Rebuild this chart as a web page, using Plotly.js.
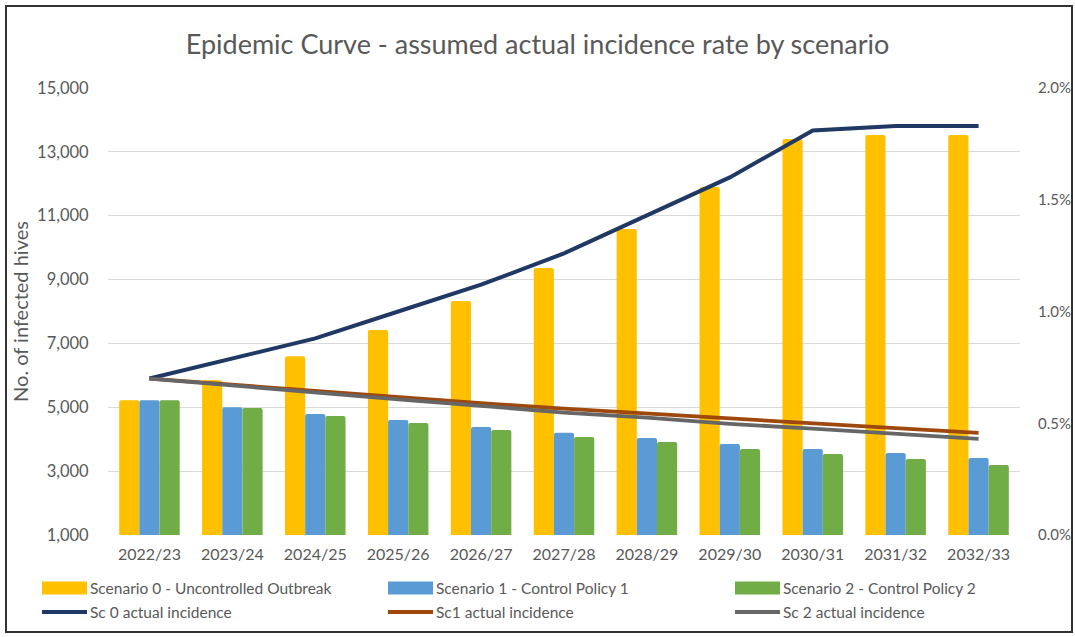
<!DOCTYPE html>
<html>
<head>
<meta charset="utf-8">
<script src="https://cdn.plot.ly/plotly-3.0.1.min.js"></script>
<style>
  html, body { margin: 0; padding: 0; background: #fff; }
  #chart { width: 1075px; height: 637px; }
</style>
</head>
<body>
<div id="chart"></div>
<script>
// ---- data ----
const years = ["2022/23","2023/24","2024/25","2025/26","2026/27","2027/28","2028/29","2029/30","2030/31","2031/32","2032/33"];
const sc0Hives = [5220, 5850, 6600, 7420, 8330, 9360, 10580, 11900, 13400, 13530, 13530];
const sc1Hives = [5220, 5000, 4790, 4600, 4380, 4200, 4040, 3850, 3690, 3570, 3410];
const sc2Hives = [5220, 4980, 4730, 4510, 4290, 4070, 3910, 3690, 3540, 3380, 3190];
const sc0Pct = [0.70, 0.79, 0.88, 1.00, 1.12, 1.26, 1.43, 1.60, 1.81, 1.83, 1.83];
const sc1Pct = [0.70, 0.672, 0.645, 0.618, 0.590, 0.565, 0.543, 0.518, 0.497, 0.478, 0.457];
const sc2Pct = [0.70, 0.668, 0.637, 0.607, 0.578, 0.548, 0.525, 0.497, 0.476, 0.455, 0.430];
const barNames = ["Scenario 0 - Uncontrolled Outbreak", "Scenario 1 - Control Policy 1", "Scenario 2 - Control Policy 2"];
const lineNames = ["Sc 0 actual incidence", "Sc1 actual incidence", "Sc 2 actual incidence"];
const leftTicks = [1000, 3000, 5000, 7000, 9000, 11000, 13000, 15000];
const leftTickText = ["1,000", "3,000", "5,000", "7,000", "9,000", "11,000", "13,000", "15,000"];
const rightTicks = [0, 0.5, 1.0, 1.5, 2.0];
const rightTickText = ["0.0%", "0.5%", "1.0%", "1.5%", "2.0%"];

// ---- styles ----
const barColors = ["#FFC000", "#5B9BD5", "#70AD47"];
const lineColors = ["#203864", "#9E480E", "#666666"];
const FONT = "Lato, 'Open Sans', sans-serif";
const TXT = "#595959";

const barData = [sc0Hives, sc1Hives, sc2Hives];
const lineData = [sc0Pct, sc1Pct, sc2Pct];

const traces = [];
barData.forEach((v, i) => traces.push({
  type: "bar", x: years, y: v, name: barNames[i],
  marker: { color: barColors[i], line: { width: 0 }, cornerradius: 2 },
  showlegend: false, yaxis: "y", hoverinfo: "x+y+name"
}));
lineData.forEach((v, i) => traces.push({
  type: "scatter", mode: "lines", x: years, y: v, name: lineNames[i],
  line: { color: lineColors[i], width: i === 0 ? 4 : 3.8 },
  showlegend: false, yaxis: "y2"
}));

// plot area geometry (px) for custom legend / frame placement
const L = 108, R = 1020, T = 88, B = 535, W = 1075, H = 637;
const px2x = p => (p - L) / (R - L);
const py2y = p => (B - p) / (B - T);

const shapes = [];
const annotations = [];
// outer frame
shapes.push({ type: "rect", xref: "paper", yref: "paper",
  x0: px2x(6), x1: px2x(1072), y0: py2y(632), y1: py2y(6),
  line: { color: "#333333", width: 2 }, fillcolor: "rgba(0,0,0,0)" });

// custom legend
const colX = [42, 388, 735];
const symW = 45;
const rowY = [588, 612];
barNames.forEach((n, i) => {
  shapes.push({ type: "rect", xref: "paper", yref: "paper",
    x0: px2x(colX[i]), x1: px2x(colX[i] + symW), y0: py2y(rowY[0] + 6.5), y1: py2y(rowY[0] - 6.5),
    line: { width: 0 }, fillcolor: barColors[i] });
  annotations.push({ xref: "paper", yref: "paper", x: px2x(colX[i] + symW + 1), y: py2y(rowY[0]),
    xanchor: "left", yanchor: "middle", showarrow: false, text: n,
    font: { family: FONT, size: 15.5, color: TXT } });
});
lineNames.forEach((n, i) => {
  shapes.push({ type: "line", xref: "paper", yref: "paper",
    x0: px2x(colX[i]), x1: px2x(colX[i] + symW), y0: py2y(rowY[1]), y1: py2y(rowY[1]),
    line: { color: lineColors[i], width: 4 } });
  annotations.push({ xref: "paper", yref: "paper", x: px2x(colX[i] + symW + 1), y: py2y(rowY[1]),
    xanchor: "left", yanchor: "middle", showarrow: false, text: n,
    font: { family: FONT, size: 15.5, color: TXT } });
});

const layout = {
  width: W, height: H,
  margin: { l: L, r: W - R, t: T, b: H - B, pad: 0 },
  paper_bgcolor: "#ffffff", plot_bgcolor: "#ffffff",
  font: { family: FONT, color: TXT, size: 15 },
  title: { text: "Epidemic Curve - assumed actual incidence rate by scenario",
    x: 0.5, xanchor: "center", y: 1 - 45 / H, yanchor: "middle", yref: "container",
    font: { family: FONT, size: 27, color: TXT } },
  barmode: "group", bargap: 0.27, bargroupgap: 0,
  showlegend: false,
  xaxis: {
    type: "category", showgrid: false, zeroline: false, showline: false,
    ticks: "outside", ticklen: 5, tickcolor: "rgba(0,0,0,0)",
    tickfont: { family: FONT, size: 16, color: TXT }
  },
  yaxis: {
    range: [1000, 15000], tickvals: leftTicks, ticktext: leftTickText,
    showgrid: true, gridcolor: "#D9D9D9", gridwidth: 1.2,
    zeroline: false, showline: false,
    ticks: "outside", ticklen: 15, tickcolor: "rgba(0,0,0,0)",
    tickfont: { family: FONT, size: 16.5, color: TXT },
    title: { text: "No. of infected hives", font: { family: FONT, size: 20, color: TXT }, standoff: 3 }
  },
  yaxis2: {
    overlaying: "y", side: "right", range: [0, 2.0], tickvals: rightTicks, ticktext: rightTickText,
    showgrid: false, zeroline: false, showline: false,
    ticks: "outside", ticklen: 14, tickcolor: "rgba(0,0,0,0)",
    tickfont: { family: FONT, size: 15, color: TXT }
  },
  shapes: shapes,
  annotations: annotations
};

Plotly.newPlot("chart", traces, layout, { displayModeBar: false, staticPlot: true });
</script>
</body>
</html>
